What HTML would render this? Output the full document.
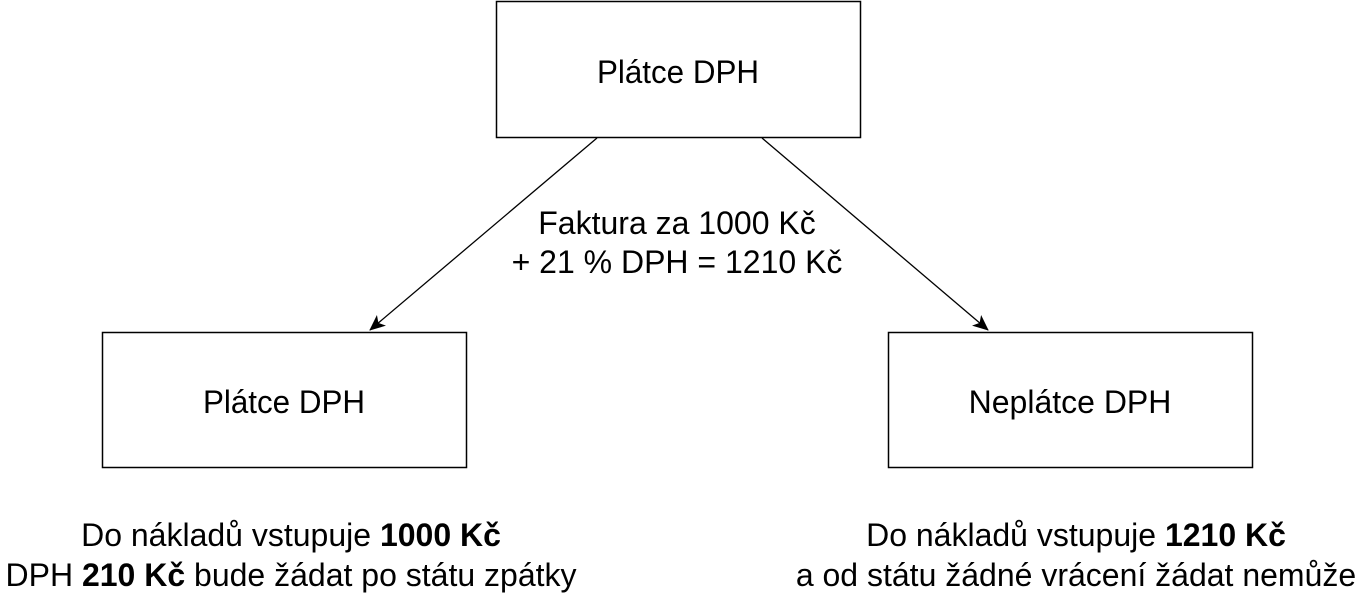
<!DOCTYPE html>
<html><head><meta charset="utf-8"><style>
html,body{margin:0;padding:0;background:#fff;width:1358px;height:602px;overflow:hidden}
svg text{font-family:"Liberation Sans",Helvetica,Arial,sans-serif;font-size:32px;fill:#000}
</style></head><body>
<svg width="1358" height="602" viewBox="0 0 1358 602" xmlns="http://www.w3.org/2000/svg">
<defs><marker id="a" markerWidth="16" markerHeight="16" refX="15" refY="8" orient="auto" markerUnits="userSpaceOnUse"><path d="M0,1 L16,8 L0,15 L4,8 z" fill="#000"/></marker></defs>
<rect x="496.5" y="1.5" width="364" height="136" fill="#fff" stroke="#000" stroke-width="1.5"/>
<rect x="102.5" y="332.5" width="364" height="135" fill="#fff" stroke="#000" stroke-width="1.5"/>
<rect x="888.5" y="332.5" width="364" height="135" fill="#fff" stroke="#000" stroke-width="1.5"/>
<line x1="597" y1="138" x2="370" y2="330" stroke="#000" stroke-width="1.3" marker-end="url(#a)"/>
<line x1="762" y1="138" x2="988" y2="330" stroke="#000" stroke-width="1.3" marker-end="url(#a)"/>
<text x="678" y="83" text-anchor="middle" textLength="162" lengthAdjust="spacingAndGlyphs">Plátce DPH</text>
<text x="284" y="413" text-anchor="middle" textLength="162" lengthAdjust="spacingAndGlyphs">Plátce DPH</text>
<text x="1070" y="413" text-anchor="middle">Neplátce DPH</text>
<text x="677" y="234" text-anchor="middle">Faktura za 1000 Kč</text>
<text x="677" y="273" text-anchor="middle">+ 21 % DPH = 1210 Kč</text>
<text x="291" y="546" text-anchor="middle">Do nákladů vstupuje <tspan font-weight="bold">1000 Kč</tspan></text>
<text x="291" y="586" text-anchor="middle">DPH <tspan font-weight="bold">210 Kč</tspan> bude žádat po státu zpátky</text>
<text x="1076" y="546" text-anchor="middle">Do nákladů vstupuje <tspan font-weight="bold">1210 Kč</tspan></text>
<text x="1076" y="586" text-anchor="middle">a od státu žádné vrácení žádat nemůže</text>
</svg>
</body></html>
